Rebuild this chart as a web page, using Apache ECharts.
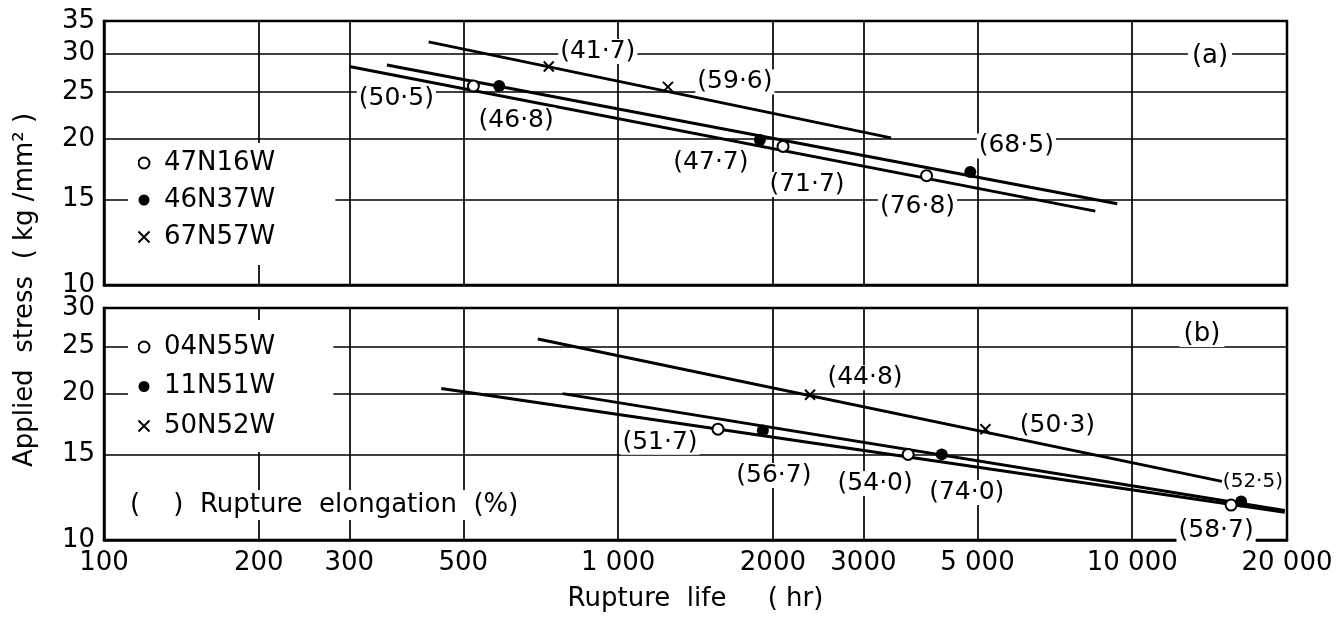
<!DOCTYPE html>
<html><head><meta charset="utf-8">
<script src="https://cdn.jsdelivr.net/npm/echarts@6/dist/echarts.min.js"></script>
<style>html,body{margin:0;padding:0;background:#fff}#c{width:1342px;height:621px}</style>
</head><body><div id="c"></div>
<script>
// ---------- axes ----------
const xTickValues = [100, 200, 300, 500, 1000, 2000, 3000, 5000, 10000, 20000];
const xTickLabels = ['100', '200', '300', '500', '1 000', '2000', '3000', '5 000', '10 000', '20 000'];
const yTicksA = [10, 15, 20, 25, 30, 35];
const yTicksB = [10, 15, 20, 25, 30];

// ---------- panel (a) ----------
const aNames = ['47N16W', '46N37W', '67N57W'];
const aOpenPts = [[523, 25.7], [2093, 19.3], [3980, 16.8]];
const aOpenLabels = ['(50·5)', '(71·7)', '(76·8)'];
const aFilledPts = [[587, 25.7], [1887, 19.9], [4842, 17.1]];
const aFilledLabels = ['(46·8)', '(47·7)', '(68·5)'];
const aCrossPts = [[733, 28.2], [1250, 25.6]];
const aCrossLabels = ['(41·7)', '(59·6)'];
const aOpenLine = [[300, 28.2], [8475, 14.2]];
const aFilledLine = [[355, 28.4], [9350, 14.7]];
const aCrossLine = [[428, 31.7], [3395, 20.1]];

// ---------- panel (b) ----------
const bNames = ['04N55W', '11N51W', '50N52W'];
const bOpenPts = [[1564, 16.9], [3666, 15.0], [15570, 11.8]];
const bOpenLabels = ['(51·7)', '(54·0)', '(58·7)'];
const bFilledPts = [[1912, 16.8], [4261, 15.0], [16290, 12.0]];
const bFilledLabels = ['(56·7)', '(74·0)', ''];
const bCrossPts = [[2362, 19.9], [5182, 16.9]];
const bCrossLabels = ['(44·8)', '(50·3)'];
const bOpenLine = [[453, 20.5], [19800, 11.4]];
const bFilledLine = [[780, 20.0], [19800, 11.5]];
const bCrossLine = [[698, 25.9], [14940, 13.2]];
const bCrossEndLabel = '(52·5)';

// ---------- label layout (pixel offsets from marker centre) ----------
const aOpenOff = [[-77, 12], [24, 38], [-9, 31]];
const aFilledOff = [[17, 34], [-49, 23], [46, -26]];
const aCrossOff = [[49, -15], [67, -5]];
const bOpenOff = [[-58, 13], [-33, 29], [-15, 25]];
const bFilledOff = [[11, 45], [25, 38], [0, 0]];
const bCrossOff = [[55, -17], [72, -4]];

const FONT = 'DejaVu Sans';
const INK = '#000';
const CROSS = 'path://M0,0L10,10M10,0L0,10';

function nearestLabel(v, values, labels) {
  let best = 0, bd = Infinity;
  values.forEach((t, i) => { const d = Math.abs(Math.log(v / t)); if (d < bd) { bd = d; best = i; } });
  return bd < 0.01 ? labels[best] : '';
}

function xAxis(gridIndex, showLabels) {
  return {
    type: 'log', gridIndex, min: 100, max: 20000, logBase: 10,
    axisLine: { show: true, lineStyle: { color: INK, width: 2.5 } },
    axisTick: { show: false, customValues: xTickValues },
    axisLabel: {
      show: showLabels, customValues: xTickValues, color: INK, fontSize: 26, fontFamily: FONT, margin: 10,
      formatter: v => nearestLabel(v, xTickValues, xTickLabels)
    },
    splitLine: { show: true, lineStyle: { color: INK, width: 1.7 } },
    minorTick: { show: false }, minorSplitLine: { show: false },
    name: showLabels ? 'Rupture  life     ( hr)' : '',
    nameLocation: 'middle', nameGap: 46,
    nameTextStyle: { color: INK, fontSize: 26, fontFamily: FONT }
  };
}
function yAxis(gridIndex, ticks, max) {
  return {
    type: 'log', gridIndex, min: 10, max, logBase: 10,
    axisLine: { show: true, lineStyle: { color: INK, width: 2.5 } },
    axisTick: { show: false, customValues: ticks },
    axisLabel: {
      customValues: ticks, color: INK, fontSize: 26, fontFamily: FONT, margin: 9,
      formatter: v => nearestLabel(v, ticks, ticks.map(String))
    },
    splitLine: { show: true, lineStyle: { color: INK, width: 1.7 } },
    minorTick: { show: false }, minorSplitLine: { show: false }
  };
}

const labelBase = { show: true, position: 'inside', color: INK, opacity: 1, fontSize: 25, fontFamily: FONT,
  backgroundColor: '#fff', padding: [0, 2], formatter: '{b}' };

function pts(values, labels, offs) {
  return values.map((p, i) => ({ value: p, name: labels[i], label: { offset: offs[i], show: !!labels[i] } }));
}
function fitLine(data, idx, extra) {
  return Object.assign({
    type: 'line', xAxisIndex: idx, yAxisIndex: idx, data, symbol: 'none', showSymbol: false,
    lineStyle: { color: INK, width: 3, opacity: 1 }, silent: true, z: 2
  }, extra || {});
}
function scatter(name, idx, data, kind) {
  const s = {
    type: 'scatter', name, xAxisIndex: idx, yAxisIndex: idx, data, z: 3, label: labelBase
  };
  if (kind === 'open') {
    s.symbol = 'emptyCircle'; s.symbolSize = 11;
    s.itemStyle = { color: INK, borderColor: INK, borderWidth: 1.8, opacity: 1 };
  } else if (kind === 'filled') {
    s.symbol = 'circle'; s.symbolSize = 12;
    s.itemStyle = { color: INK, opacity: 1 };
  } else {
    s.symbol = CROSS; s.symbolSize = 10;
    s.itemStyle = { color: 'none', borderColor: INK, borderWidth: 2, opacity: 1 };
  }
  return s;
}

const legendBase = {
  orient: 'vertical', itemWidth: 30, itemHeight: 11, selectedMode: false,
  backgroundColor: '#fff', borderWidth: 0,
  textStyle: { color: INK, fontSize: 26, lineHeight: 28, fontFamily: FONT }
};

const option = {
  animation: false,
  backgroundColor: '#fff',
  grid: [
    { left: 104, right: 55, top: 21, height: 264, show: true, borderColor: INK, borderWidth: 2.5, outerBoundsMode: 'none' },
    { left: 104, right: 55, top: 308, height: 232, show: true, borderColor: INK, borderWidth: 2.5, outerBoundsMode: 'none' }
  ],
  xAxis: [xAxis(0, false), xAxis(1, true)],
  yAxis: [yAxis(0, yTicksA, 35), yAxis(1, yTicksB, 30)],
  legend: [
    Object.assign({}, legendBase, { data: aNames, left: 136, top: 143, itemGap: 9, padding: [6, 60, 14, 0] }),
    Object.assign({}, legendBase, { data: bNames, left: 136, top: 320, itemGap: 11.5, padding: [13, 58, 12, 0] })
  ],
  graphic: [
    { type: 'rect', shape: { x: 128, y: 143, width: 10, height: 122 }, style: { fill: '#fff' }, z: 9 },
    { type: 'rect', shape: { x: 128, y: 320, width: 10, height: 132 }, style: { fill: '#fff' }, z: 9 },
    { type: 'text', x: 1210, y: 56, style: { text: '(a)', fill: INK, font: '26px "DejaVu Sans"', align: 'center', verticalAlign: 'middle', backgroundColor: '#fff', padding: [0, 4] }, z: 10 },
    { type: 'text', x: 1202, y: 334, style: { text: '(b)', fill: INK, font: '26px "DejaVu Sans"', align: 'center', verticalAlign: 'middle', backgroundColor: '#fff', padding: [0, 4] }, z: 10 },
    { type: 'text', x: 128, y: 505, style: { text: '(    )  Rupture  elongation  (%)', fill: INK, font: '26px "DejaVu Sans"', align: 'left', verticalAlign: 'middle', backgroundColor: '#fff', padding: [2, 2] }, z: 10 },
    { type: 'text', x: 25, y: 290, rotation: Math.PI / 2, style: { text: 'Applied  stress  ( kg /mm² )', fill: INK, font: '26px "DejaVu Sans"', align: 'center', verticalAlign: 'middle' }, z: 10 }
  ],
  series: [
    fitLine(aOpenLine, 0), fitLine(aFilledLine, 0), fitLine(aCrossLine, 0),
    scatter(aNames[0], 0, pts(aOpenPts, aOpenLabels, aOpenOff), 'open'),
    scatter(aNames[1], 0, pts(aFilledPts, aFilledLabels, aFilledOff), 'filled'),
    scatter(aNames[2], 0, pts(aCrossPts, aCrossLabels, aCrossOff), 'cross'),
    fitLine(bOpenLine, 1), fitLine(bFilledLine, 1),
    fitLine(bCrossLine, 1, { endLabel: { show: true, formatter: bCrossEndLabel, color: INK, fontSize: 20, fontFamily: FONT, distance: 1 } }),
    scatter(bNames[0], 1, pts(bOpenPts, bOpenLabels, bOpenOff), 'open'),
    scatter(bNames[1], 1, pts(bFilledPts, bFilledLabels, bFilledOff), 'filled'),
    scatter(bNames[2], 1, pts(bCrossPts, bCrossLabels, bCrossOff), 'cross')
  ]
};
const chart = echarts.init(document.getElementById('c'), null, { renderer: 'canvas' });
chart.setOption(option);
</script></body></html>
